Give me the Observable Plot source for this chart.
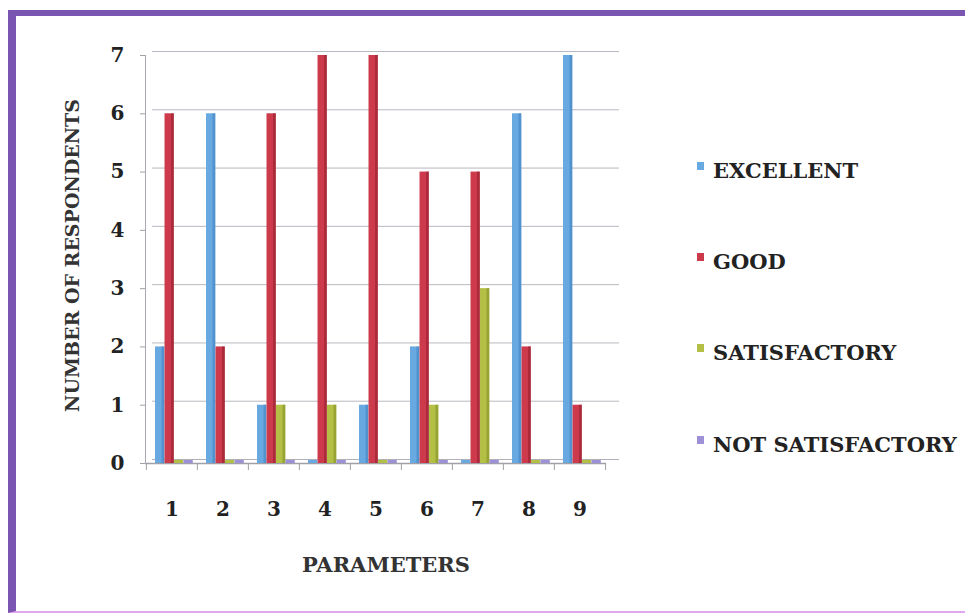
<!DOCTYPE html>
<html>
<head>
<meta charset="utf-8">
<script src="https://cdn.jsdelivr.net/npm/d3@7"></script>
<script src="https://cdn.jsdelivr.net/npm/@observablehq/plot@0.6"></script>
<style>
  html, body { margin: 0; padding: 0; background: #fff; width: 965px; height: 615px; overflow: hidden; }
  #frame { position: absolute; left: 8px; top: 10px; width: 1000px; height: 595px;
           border-top: 6px solid #7b55b2; border-left: 8px solid #7b55b2; border-bottom: 2px solid #e0a8ee; }
  #chart { position: absolute; left: 0; top: 0; }
  #legend { position: absolute; left: 697px; top: 0; font-family: "DejaVu Serif", serif; font-weight: bold;
            font-size: 21px; color: #222; }
  .item { position: absolute; left: 0; white-space: nowrap; display: flex; align-items: center; }
  .sw { width: 7px; height: 8px; margin-right: 9px; margin-top: -9px; }
</style>
</head>
<body>
<div id="frame"></div>
<div id="chart"></div>
<div id="legend"></div>
<script>
const categories = ["1", "2", "3", "4", "5", "6", "7", "8", "9"];
const seriesNames = ["EXCELLENT", "GOOD", "SATISFACTORY", "NOT SATISFACTORY"];
const excellent = [2, 6, 1, 0, 1, 2, 0, 6, 7];
const good = [6, 2, 6, 7, 7, 5, 5, 2, 1];
const satisfactory = [0, 0, 1, 1, 0, 1, 3, 0, 0];
const notSatisfactory = [0, 0, 0, 0, 0, 0, 0, 0, 0];
const yTicks = [0, 1, 2, 3, 4, 5, 6, 7];
const yTitle = "NUMBER OF RESPONDENTS";
const xTitle = "PARAMETERS";

const colors = ["#68a9e2", "#cd3a4c", "#b3c045", "#9d8fd8"];
const sideColors = ["#3f7fbf", "#8f1f2e", "#7f8c25", "#6f62ad"];
const seriesValues = [excellent, good, satisfactory, notSatisfactory];

const data = [];
seriesValues.forEach((vals, s) => {
  vals.forEach((v, i) => data.push({cat: categories[i], series: seriesNames[s], s, value: v}));
});

const width = 640, height = 600;
const marginLeft = 145, marginRight = 34, marginTop = 55, marginBottom = 137;
const bw = (width - marginLeft - marginRight) / categories.length;
const barW = 9.5;
const inset = (bw - barW) / 2;
const sideW = 3;

const marks = [];
// back wall gridlines (3D offset)
marks.push(Plot.ruleY(yTicks.filter(d => d > 0), {stroke: "#b8b8c0", strokeWidth: 1, dx: 7, dy: -4, insetRight: -6}));
// floor
marks.push(Plot.ruleY([0], {stroke: "#b0b0b8", strokeWidth: 1.2, dx: 7, dy: -4, insetRight: -6}));
marks.push(Plot.ruleY([0], {stroke: "#a0a0a8", strokeWidth: 1.5}));
// left axis line
marks.push(Plot.frame({anchor: "left", stroke: "#a8a8b0"}));

seriesValues.forEach((vals, s) => {
  const d = data.filter(r => r.s === s);
  const dx = -12.85 + 9.5 * s + 1;
  marks.push(Plot.barY(d.filter(r => r.value > 0), {
    x: "cat", y: "value", fill: colors[s], insetLeft: inset, insetRight: inset, dx
  }));
  marks.push(Plot.barY(d.filter(r => r.value > 0), {
    x: "cat", y: "value", fill: sideColors[s], fillOpacity: 0.55,
    insetLeft: inset + barW - sideW, insetRight: inset, dx
  }));
  marks.push(Plot.barY(d.filter(r => r.value === 0), {
    x: "cat", y1: 0, y2: 0, fill: colors[s], insetLeft: inset, insetRight: inset, insetTop: -3, dx
  }));
});

// boundary tick marks under floor
marks.push(Plot.ruleX(categories, {x: d => d, y1: 0, y2: 0, insetBottom: -7, dx: -bw / 2, stroke: "#a0a0a8"}));
marks.push(Plot.ruleX([categories[categories.length - 1]], {x: d => d, y1: 0, y2: 0, insetBottom: -7, dx: bw / 2, stroke: "#a0a0a8"}));

marks.push(Plot.axisY({ticks: yTicks, tickSize: 5, tickPadding: 16, fontSize: 20, fontWeight: "bold", stroke: "#a0a0a8", label: null, tickFormat: d => String(d)}));
marks.push(Plot.axisX({tickSize: 0, tickPadding: 38, fontSize: 20, fontWeight: "bold", label: null}));

marks.push(Plot.text([yTitle], {frameAnchor: "left", textAnchor: "middle", dx: -73, dy: -4, rotate: -90, fontSize: 19, fontWeight: "bold", fill: "#333", text: d => d}));
marks.push(Plot.text([xTitle], {frameAnchor: "bottom", textAnchor: "middle", dx: 10, dy: 108, fontSize: 21, fontWeight: "bold", fill: "#333", text: d => d}));

const chart = Plot.plot({
  width, height, marginLeft, marginRight, marginTop, marginBottom,
  style: {fontFamily: "DejaVu Serif, serif", color: "#222", background: "transparent", overflow: "visible"},
  x: {domain: categories, padding: 0, axis: null},
  y: {domain: [0, 7], axis: null},
  marks
});
document.getElementById("chart").appendChild(chart);

const legendTops = [171, 262, 353, 445];
const legend = document.getElementById("legend");
seriesNames.forEach((name, i) => {
  const item = document.createElement("div");
  item.className = "item";
  item.style.top = (legendTops[i] - 13) + "px";
  const sw = document.createElement("span");
  sw.className = "sw";
  sw.style.background = colors[i];
  const t = document.createElement("span");
  t.textContent = name;
  item.appendChild(sw);
  item.appendChild(t);
  legend.appendChild(item);
});
</script>
</body>
</html>
